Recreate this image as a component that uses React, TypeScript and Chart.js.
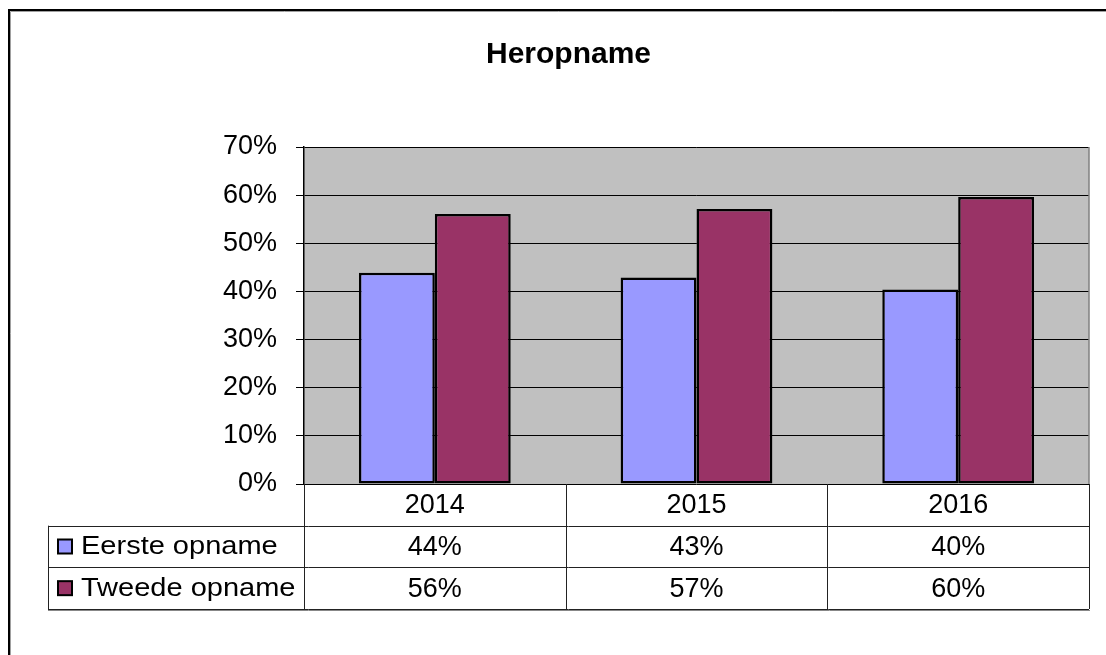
import React, { useEffect, useRef } from "react";
import { Chart, registerables } from "chart.js";

Chart.register(...registerables);

const chartTitle = "Heropname";
const categories = ["2014", "2015", "2016"];
const seriesNames = ["Eerste opname", "Tweede opname"];
const eersteOpname = [43.9, 42.9, 40.4];
const tweedeOpname = [56.1, 57.1, 59.6];
const seriesColors = ["#9999FF", "#993366"];
const yMin = 0;
const yMax = 70;
const yStep = 10;

const FONT = "'Liberation Sans', Arial, Helvetica, sans-serif";

const framePlugin = {
  id: "framePlugin",
  beforeDraw(chart: any) {
    const { ctx, chartArea } = chart;
    ctx.save();
    ctx.fillStyle = "#ffffff";
    ctx.fillRect(0, 0, chart.width, chart.height);
    // outer frame
    ctx.strokeStyle = "#000000";
    ctx.lineWidth = 2;
    ctx.beginPath();
    ctx.moveTo(9, chart.height + 10);
    ctx.lineTo(9, 10);
    ctx.lineTo(chart.width + 10, 10);
    ctx.stroke();
    ctx.strokeStyle = "#a0a0a0";
    ctx.lineWidth = 1;
    ctx.beginPath();
    ctx.moveTo(10.5, chart.height + 10);
    ctx.lineTo(10.5, 11.5);
    ctx.lineTo(chart.width + 10, 11.5);
    ctx.stroke();
    // plot background
    ctx.fillStyle = "#C0C0C0";
    ctx.fillRect(
      chartArea.left,
      chartArea.top,
      chartArea.right - chartArea.left,
      chartArea.bottom - chartArea.top
    );
    ctx.restore();
  },
};

const tablePlugin = {
  id: "tablePlugin",
  afterDraw(chart: any) {
    const { ctx, chartArea } = chart;
    const xScale = chart.scales.x;
    const labels: string[] = chart.data.labels;
    const n = labels.length;
    const left = chartArea.left;
    const right = chartArea.right;
    const catW = (right - left) / n;
    const top = chartArea.bottom;
    const bottom = xScale.bottom;
    const rowH = (bottom - top) / 3;
    const y1 = top + rowH;
    const y2 = top + 2 * rowH;
    const y3 = bottom;
    const legendLeft = chart.options.layout.padding.left;

    const px = (v: number) => Math.round(v) + 0.5;

    ctx.save();
    // grey right border of plot
    ctx.strokeStyle = "#808080";
    ctx.lineWidth = 1.5;
    ctx.beginPath();
    ctx.moveTo(right, chartArea.top);
    ctx.lineTo(right, chartArea.bottom);
    ctx.stroke();

    // table lines
    ctx.strokeStyle = "#222222";
    ctx.lineWidth = 1;
    ctx.beginPath();
    for (let i = 0; i <= n; i++) {
      const x = px(left + i * catW);
      ctx.moveTo(x, top);
      ctx.lineTo(x, y3);
    }
    ctx.moveTo(px(legendLeft), y1);
    ctx.lineTo(px(legendLeft), y3);
    [y1, y2, y3].forEach((y) => {
      ctx.moveTo(legendLeft, px(y));
      ctx.lineTo(right, px(y));
    });
    ctx.stroke();
    ctx.strokeStyle = "#888888";
    ctx.beginPath();
    ctx.moveTo(legendLeft, px(y3) + 1);
    ctx.lineTo(right + 1, px(y3) + 1);
    ctx.stroke();

    // header labels
    ctx.fillStyle = "#000000";
    ctx.textAlign = "center";
    ctx.textBaseline = "middle";
    ctx.font = `27px ${FONT}`;
    labels.forEach((lab, i) => {
      const cx = xScale.getPixelForValue(i);
      ctx.fillText(lab, cx, top + rowH / 2 + 1);
    });

    // data rows
    chart.data.datasets.forEach((ds: any, di: number) => {
      const cy = top + rowH * (di + 1) + rowH / 2 + 1;
      ds.data.forEach((v: number, i: number) => {
        const cx = xScale.getPixelForValue(i);
        ctx.fillStyle = "#000000";
        ctx.textAlign = "center";
        ctx.font = `27px ${FONT}`;
        ctx.fillText(`${Math.round(v)}%`, cx, cy);
      });
      // legend swatch
      ctx.fillStyle = ds.backgroundColor;
      ctx.fillRect(legendLeft + 10, cy - 8, 14, 14);
      ctx.strokeStyle = "#000000";
      ctx.lineWidth = 2;
      ctx.strokeRect(legendLeft + 10, cy - 8, 14, 14);
      // legend text (horizontally stretched like the original)
      ctx.save();
      ctx.translate(legendLeft + 33, cy);
      ctx.scale(1.16, 1);
      ctx.fillStyle = "#000000";
      ctx.textAlign = "left";
      ctx.font = `25px ${FONT}`;
      ctx.fillText(ds.label, 0, 0);
      ctx.restore();
    });
    ctx.restore();
  },
};

export default function App() {
  const canvasRef = useRef<HTMLCanvasElement | null>(null);

  useEffect(() => {
    if (!canvasRef.current) return;
    const chart = new Chart(canvasRef.current, {
      type: "bar",
      data: {
        labels: categories,
        datasets: [
          {
            label: seriesNames[0],
            data: eersteOpname,
            backgroundColor: seriesColors[0],
            borderColor: "#000000",
            borderWidth: 2.5,
            borderSkipped: false,
          },
          {
            label: seriesNames[1],
            data: tweedeOpname,
            backgroundColor: seriesColors[1],
            borderColor: "#000000",
            borderWidth: 2.5,
            borderSkipped: false,
          },
        ],
      },
      options: {
        responsive: false,
        animation: false,
        events: [],
        layout: { padding: { left: 48, right: 17, top: 0, bottom: 46 } },
        datasets: {
          bar: { categoryPercentage: 0.58, barPercentage: 1 },
        },
        plugins: {
          legend: { display: false },
          tooltip: { enabled: false },
          title: {
            display: true,
            text: chartTitle,
            color: "#000000",
            font: { family: FONT, size: 30, weight: "bold", lineHeight: 1.2 },
            padding: { top: 37, bottom: 74 },
          },
        },
        scales: {
          x: {
            type: "category",
            ticks: { display: false },
            grid: { display: false },
            border: { display: false },
            afterFit(scale: any) {
              scale.height = 125;
            },
          },
          y: {
            min: yMin,
            max: yMax,
            ticks: {
              stepSize: yStep,
              color: "#000000",
              font: { family: FONT, size: 27 },
              padding: 19,
              callback: (v: any) => `${v}%`,
            },
            grid: {
              color: "#000000",
              lineWidth: 1,
              tickLength: 8,
              drawTicks: true,
            },
            border: { display: true, color: "#000000", width: 1.5 },
            afterFit(scale: any) {
              scale.width = 256;
            },
          },
        },
      },
      plugins: [framePlugin, tablePlugin],
    });
    return () => chart.destroy();
  }, []);

  return (
    <div style={{ position: "absolute", left: 0, top: 0, width: 1106, height: 655 }}>
      <canvas ref={canvasRef} width={1106} height={655} />
    </div>
  );
}
